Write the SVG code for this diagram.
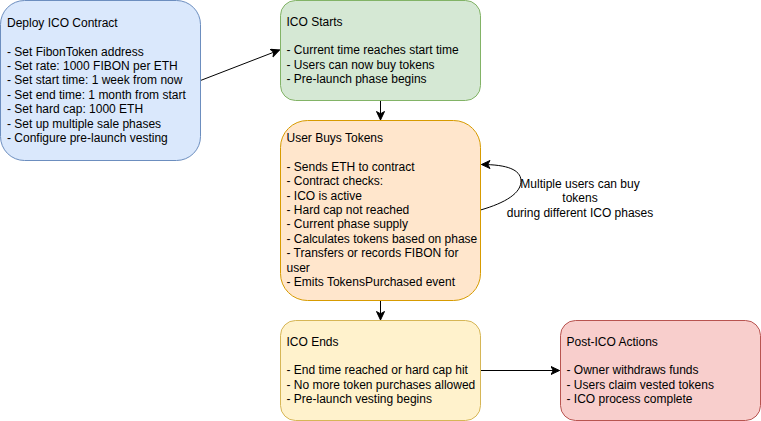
<svg xmlns="http://www.w3.org/2000/svg" width="761" height="421" viewBox="0 0 761 421">
<style>
  text { font-family: "Liberation Sans", Arial, sans-serif; font-size: 12px; fill: #000000; }
  .edge { fill: none; stroke: #000000; stroke-width: 1; }
  .lbl { text-anchor: middle; }
</style>
<defs>
  <marker id="arr" markerUnits="userSpaceOnUse" markerWidth="10" markerHeight="10" refX="9" refY="4.5" orient="auto">
    <path d="M0.5,0.5 L9,4.5 L0.5,8.5 L2.8,4.5 Z" fill="#000000" stroke="#000000" stroke-width="1"/>
  </marker>
</defs>
<rect width="761" height="421" fill="#ffffff"/>
<g id="connectors">
  <path class="edge" d="M200.5,80.5 L279.5,50" marker-end="url(#arr)"/>
  <path class="edge" d="M380.5,100.5 L380.5,120" marker-end="url(#arr)"/>
  <path class="edge" d="M380.5,300.5 L380.5,320" marker-end="url(#arr)"/>
  <path class="edge" d="M480.5,370.5 L559.5,370.5" marker-end="url(#arr)"/>
  <path class="edge" d="M480.5,210 C505,203 522,193 521,180 C520,170 508,164.5 481.5,164.5" marker-end="url(#arr)"/>
  <text class="lbl"><tspan x="580" y="188">Multiple users can buy</tspan><tspan x="580" y="202.4">tokens</tspan><tspan x="580" y="216.8">during different ICO phases</tspan></text>
</g>
<g id="deploy">
  <rect x="0.5" y="0.5" width="200" height="160" rx="24" ry="24" fill="#dae8fc" stroke="#6c8ebf"/>
  <text><tspan x="7" y="26.7">Deploy ICO Contract</tspan><tspan x="7" y="55.5">- Set FibonToken address</tspan><tspan x="7" y="69.9">- Set rate: 1000 FIBON per ETH</tspan><tspan x="7" y="84.3">- Set start time: 1 week from now</tspan><tspan x="7" y="98.7">- Set end time: 1 month from start</tspan><tspan x="7" y="113.1">- Set hard cap: 1000 ETH</tspan><tspan x="7" y="127.5">- Set up multiple sale phases</tspan><tspan x="7" y="141.9">- Configure pre-launch vesting</tspan></text>
</g>
<g id="ico-starts">
  <rect x="280.5" y="0.5" width="200" height="100" rx="15" ry="15" fill="#d5e8d4" stroke="#82b366"/>
  <text><tspan x="286.5" y="25.5">ICO Starts</tspan><tspan x="286.5" y="54.3">- Current time reaches start time</tspan><tspan x="286.5" y="68.7">- Users can now buy tokens</tspan><tspan x="286.5" y="83.1">- Pre-launch phase begins</tspan></text>
</g>
<g id="user-buys">
  <rect x="280.5" y="120.5" width="200" height="180" rx="27" ry="27" fill="#ffe6cc" stroke="#d79b00"/>
  <text><tspan x="286.5" y="142">User Buys Tokens</tspan><tspan x="286.5" y="170.8">- Sends ETH to contract</tspan><tspan x="286.5" y="185.2">- Contract checks:</tspan><tspan x="286.5" y="199.6">- ICO is active</tspan><tspan x="286.5" y="214">- Hard cap not reached</tspan><tspan x="286.5" y="228.4">- Current phase supply</tspan><tspan x="286.5" y="242.8">- Calculates tokens based on phase</tspan><tspan x="286.5" y="257.2">- Transfers or records FIBON for</tspan><tspan x="286.5" y="271.6">user</tspan><tspan x="286.5" y="286">- Emits TokensPurchased event</tspan></text>
</g>
<g id="ico-ends">
  <rect x="280.5" y="320.5" width="200" height="100" rx="15" ry="15" fill="#fff2cc" stroke="#d6b656"/>
  <text><tspan x="286.5" y="345.5">ICO Ends</tspan><tspan x="286.5" y="374.3">- End time reached or hard cap hit</tspan><tspan x="286.5" y="388.7">- No more token purchases allowed</tspan><tspan x="286.5" y="403.1">- Pre-launch vesting begins</tspan></text>
</g>
<g id="post-ico">
  <rect x="560.5" y="320.5" width="200" height="100" rx="15" ry="15" fill="#f8cecc" stroke="#b85450"/>
  <text><tspan x="566.5" y="345.5">Post-ICO Actions</tspan><tspan x="566.5" y="374.3">- Owner withdraws funds</tspan><tspan x="566.5" y="388.7">- Users claim vested tokens</tspan><tspan x="566.5" y="403.1">- ICO process complete</tspan></text>
</g>
</svg>
